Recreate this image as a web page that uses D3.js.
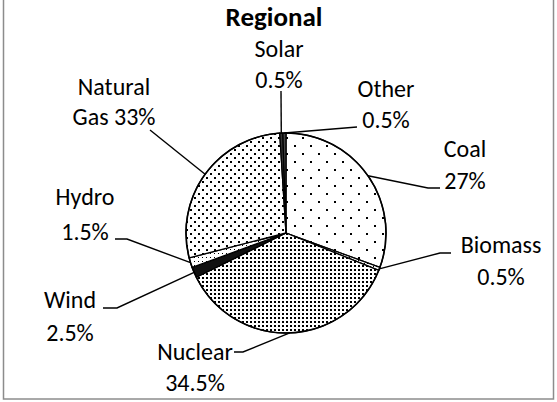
<!DOCTYPE html>
<html>
<head>
<meta charset="utf-8">
<script src="https://cdn.jsdelivr.net/npm/d3@7"></script>
<style>
  body { margin: 0; background: #fff; }
  svg text { font-family: Carlito, Calibri, Lato, sans-serif; fill: #000; }
</style>
</head>
<body>
<div id="chart"></div>
<script>
// slices go clockwise from 12 o'clock, same order as the source chart
const categories = ["Coal", "Biomass", "Nuclear", "Wind", "Hydro", "Natural Gas", "Solar", "Other"];
// slice sizes as they are drawn in the picture (%)
const shares = [30.6, 0.5, 36.6, 1.7, 1.6, 28.0, 0.5, 0.5];
// percentages printed on the data labels
const labelValues = ["27%", "0.5%", "34.5%", "2.5%", "1.5%", "33%", "0.5%", "0.5%"];
const title = "Regional";

const width = 557;
const height = 402;
const cx = 286, cy = 233, radius = 100;
const fontSize = 24;

// where each label sits + the bend of its leader line
const labelLayout = {
  "Coal":        { x: 465, y: [157, 189], leader: [[428, 188], [440, 188]] },
  "Biomass":     { x: 501, y: [253, 285], leader: [[440, 253], [451, 253]] },
  "Nuclear":     { x: 195, y: [360, 391], leader: [[243, 352], [234, 352]] },
  "Wind":        { x: 70,  y: [308, 341], leader: [[117, 308], [103, 308]] },
  "Hydro":       { x: 85,  y: [205, 240], leader: [[127, 239], [115, 239]] },
  "Natural Gas": { x: 114, y: [95, 125],  leader: [[150, 130]], split: true },
  "Solar":       { x: 279, y: [57, 88],   leader: [[281, 91]] },
  "Other":       { x: 386, y: [97, 128],  leader: [[357, 127]] }
};

const fills = {
  "Coal": "url(#p-coal)",
  "Biomass": "url(#p-biomass)",
  "Nuclear": "url(#p-nuclear)",
  "Wind": "#111",
  "Hydro": "url(#p-hydro)",
  "Natural Gas": "url(#p-gas)",
  "Solar": "#333",
  "Other": "#444"
};

const slices = categories.map((c, i) => ({ category: c, share: shares[i], label: labelValues[i] }));

const svg = d3.select("#chart")
  .append("svg")
  .attr("width", width)
  .attr("height", height);

// dotted patterns like excel's 5% / 20% / 25% fills
const defs = svg.append("defs");
function dotPattern(id, size, dots, dot) {
  const p = defs.append("pattern")
    .attr("id", id)
    .attr("patternUnits", "userSpaceOnUse")
    .attr("width", size)
    .attr("height", size);
  p.append("rect").attr("width", size).attr("height", size).attr("fill", "#fff");
  dots.forEach(([x, y]) => {
    p.append("rect").attr("x", x).attr("y", y).attr("width", dot).attr("height", dot).attr("fill", "#000");
  });
}
dotPattern("p-coal", 16, [[0, 0], [8, 8]], 2);
dotPattern("p-gas", 8, [[0, 0], [4, 4]], 2);
dotPattern("p-nuclear", 4, [[0, 0]], 2);
dotPattern("p-hydro", 4, [[0, 0]], 1);
dotPattern("p-biomass", 3, [[0, 0]], 1);

// chart frame
svg.append("rect")
  .attr("x", 3.5)
  .attr("y", -2)
  .attr("width", 550)
  .attr("height", 401)
  .attr("fill", "none")
  .attr("stroke", "#8c8c8c")
  .attr("stroke-width", 1.5);

svg.append("text")
  .attr("x", 274)
  .attr("y", 26)
  .attr("text-anchor", "middle")
  .attr("font-size", 27)
  .attr("font-weight", "bold")
  .text(title);

const pie = d3.pie().sort(null).value(d => d.share);
const arcs = pie(slices);
const arc = d3.arc().innerRadius(0).outerRadius(radius);

const g = svg.append("g").attr("transform", `translate(${cx},${cy})`);

g.selectAll("path.slice")
  .data(arcs)
  .join("path")
  .attr("class", "slice")
  .attr("d", arc)
  .attr("fill", d => fills[d.data.category])
  .attr("stroke", "#000")
  .attr("stroke-width", 1.3)
  .attr("stroke-linejoin", "round");

g.append("circle")
  .attr("r", radius)
  .attr("fill", "none")
  .attr("stroke", "#000")
  .attr("stroke-width", 1.6);

// leader lines start on the rim at the middle of each slice
const line = d3.line();
svg.append("g")
  .selectAll("path")
  .data(arcs)
  .join("path")
  .attr("d", d => {
    const a = (d.startAngle + d.endAngle) / 2;
    const start = [cx + radius * Math.sin(a), cy - radius * Math.cos(a)];
    return line([start, ...labelLayout[d.data.category].leader]);
  })
  .attr("fill", "none")
  .attr("stroke", "#000")
  .attr("stroke-width", 1.4);

// data labels, two lines each
const labels = svg.append("g")
  .attr("font-size", fontSize)
  .attr("text-anchor", "middle");

arcs.forEach(d => {
  const L = labelLayout[d.data.category];
  let lines;
  if (L.split) {
    const words = d.data.category.split(" ");
    lines = [words[0], words.slice(1).join(" ") + " " + d.data.label];
  } else {
    lines = [d.data.category, d.data.label];
  }
  lines.forEach((t, i) => {
    labels.append("text")
      .attr("x", L.x)
      .attr("y", L.y[i])
      .text(t);
  });
});
</script>
</body>
</html>
